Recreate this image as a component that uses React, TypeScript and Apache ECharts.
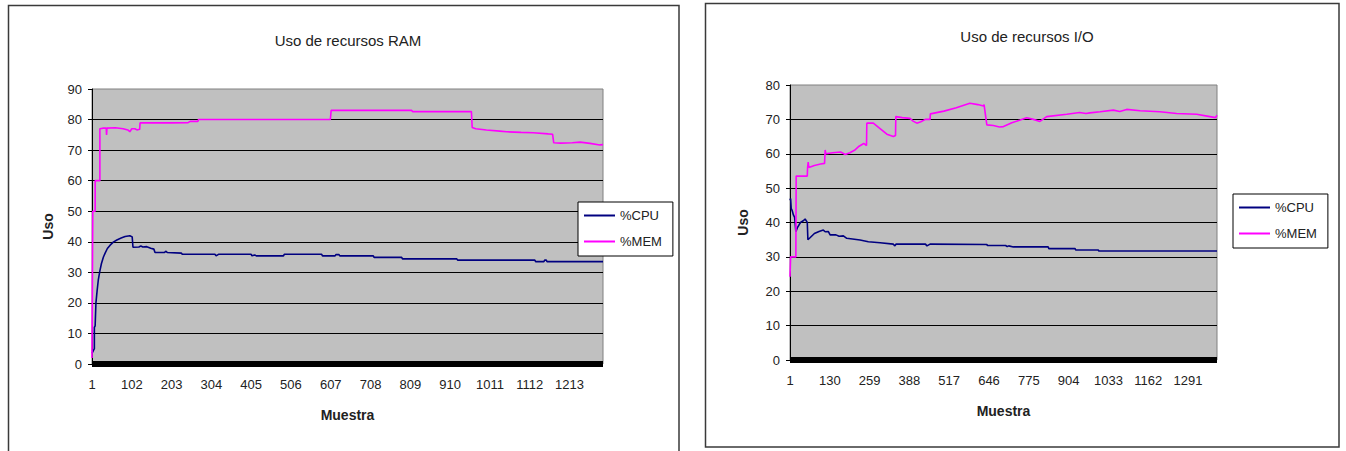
import React, { useEffect, useRef } from "react";
import * as echarts from "echarts";

// ---------- data (sample number, value) ----------
const ramSampleCount = 1298;
const ioSampleCount = 1385;

const ramTickStep = 101;
const ioTickStep = 129;

const ramCpuSample = [1, 5, 7, 7, 9, 11, 14, 17, 21, 25, 30, 34, 40, 47, 55, 64, 75, 85, 97, 103, 105, 120, 125, 130, 140, 150, 158, 161, 185, 188, 192, 228, 230, 313, 316, 322, 405, 407, 414, 418, 487, 489, 584, 586, 618, 620, 628, 630, 715, 717, 787, 789, 927, 929, 1125, 1127, 1148, 1150, 1154, 1156, 1298];
const ramCpuValue = [3.5, 4.5, 5, 12, 12.5, 20, 24, 27.5, 30.5, 32.9, 35, 36.2, 37.8, 38.9, 39.9, 40.6, 41.2, 41.7, 42.0, 41.6, 38.2, 38.3, 38.6, 38.3, 38.4, 37.9, 37.6, 36.5, 36.5, 36.9, 36.5, 36.3, 35.9, 35.9, 35.4, 35.9, 35.9, 35.4, 35.7, 35.4, 35.4, 35.9, 35.9, 35.4, 35.4, 35.8, 35.8, 35.4, 35.4, 34.9, 34.9, 34.4, 34.4, 34.0, 34.0, 33.5, 33.5, 34.0, 34.0, 33.5, 33.5];

const ramMemSample = [1, 3, 9, 9, 21, 21, 30, 37, 38, 39, 60, 80, 92, 97, 102, 110, 115, 122, 123, 200, 245, 250, 270, 271, 606, 608, 812, 815, 964, 966, 975, 1002, 1036, 1053, 1090, 1121, 1159, 1170, 1173, 1190, 1220, 1240, 1265, 1290, 1298];
const ramMemValue = [2, 50, 50, 60, 60, 77, 77.2, 77.2, 75, 77.2, 77.3, 77.0, 76.6, 76.0, 77.0, 77.0, 76.6, 76.8, 78.9, 78.9, 79.0, 79.4, 79.4, 80.0, 80.0, 83.0, 83.0, 82.6, 82.6, 77.4, 77.0, 76.6, 76.2, 76.0, 75.8, 75.7, 75.3, 75.2, 72.4, 72.3, 72.4, 72.6, 72.2, 71.7, 71.8];

const ioCpuSample = [1, 3, 5, 8, 12, 16, 20, 25, 35, 44, 50, 53, 57, 59, 65, 80, 95, 109, 115, 125, 131, 150, 160, 174, 185, 228, 255, 293, 336, 340, 345, 440, 445, 455, 639, 641, 700, 705, 710, 725, 838, 840, 925, 927, 1000, 1002, 1385];
const ioCpuValue = [46.5, 47, 44, 43.5, 42.2, 41.5, 37.3, 38.5, 40.0, 40.5, 41.0, 40.6, 40.0, 35.0, 35.5, 36.8, 37.4, 37.8, 37.3, 37.4, 36.4, 36.4, 36.0, 36.1, 35.4, 34.9, 34.4, 34.1, 33.7, 33.2, 33.7, 33.7, 33.2, 33.7, 33.6, 33.3, 33.3, 33.0, 33.2, 32.9, 32.9, 32.4, 32.4, 32.0, 32.0, 31.7, 31.7];

const ioMemSample = [1, 3, 20, 21, 57, 58, 60, 62, 80, 100, 113, 115, 117, 140, 165, 180, 195, 210, 225, 240, 249, 250, 271, 290, 315, 336, 343, 344, 365, 390, 400, 412, 425, 440, 455, 456, 500, 540, 584, 610, 628, 630, 639, 660, 680, 693, 720, 747, 768, 790, 811, 833, 898, 940, 960, 973, 1006, 1049, 1070, 1092, 1136, 1200, 1254, 1319, 1362, 1380, 1385];
const ioMemValue = [24.2, 30, 30, 53.5, 53.5, 56, 57.6, 56, 56.6, 57, 57.2, 61.1, 60.0, 60.3, 60.5, 59.8, 60.3, 61, 62.2, 63.0, 62.4, 68.9, 68.9, 67.5, 65.7, 65.0, 65.3, 70.8, 70.5, 70.3, 69.5, 68.9, 69.3, 70.0, 70.0, 71.6, 72.4, 73.4, 74.7, 74.3, 73.9, 74.3, 68.4, 68.2, 67.8, 67.9, 69.0, 69.8, 70.5, 70.0, 69.4, 70.8, 71.5, 72.0, 71.7, 71.9, 72.2, 72.7, 72.3, 72.9, 72.5, 72.2, 71.7, 71.5, 70.8, 70.5, 71.2];

const ramYMax = 90;
const ioYMax = 80;

const seriesNames = ["%CPU", "%MEM"];
const titles = ["Uso de recursos RAM", "Uso de recursos I/O"];
const yTitle = "Uso";
const xTitle = "Muestra";

// ---------- helpers ----------
const toPoints = (samples: number[], values: number[]) =>
  samples.map((s, i) => [s - 1, values[i]]);

const FONT = 'Arial, "Liberation Sans", sans-serif';
const CPU_COLOR = "#000080";
const MEM_COLOR = "#ff00ff";

function xAxisFor(gridIndex: number, count: number, step: number) {
  return {
    type: "value",
    gridIndex,
    min: 0,
    max: count - 1,
    interval: step,
    name: xTitle,
    nameLocation: "middle",
    nameGap: 44,
    nameTextStyle: { fontFamily: FONT, fontSize: 14, fontWeight: "bold", color: "#222" },
    axisLine: { show: true, lineStyle: { color: "#000", width: 6, cap: "butt" } },
    axisTick: { show: false },
    splitLine: { show: false },
    axisLabel: {
      showMaxLabel: false,
      margin: 14,
      fontFamily: FONT,
      fontSize: 13,
      color: "#222",
      formatter: (v: number) => String(v + 1),
    },
  };
}

function yAxisFor(gridIndex: number, max: number, gap: number) {
  return {
    type: "value",
    gridIndex,
    min: 0,
    max,
    interval: 10,
    name: yTitle,
    nameLocation: "middle",
    nameGap: gap,
    nameRotate: 90,
    nameTextStyle: { fontFamily: FONT, fontSize: 14, fontWeight: "bold", color: "#222" },
    axisLine: { show: true, lineStyle: { color: "#000", width: 1 } },
    axisTick: { show: true, length: 4, lineStyle: { color: "#000" } },
    splitLine: { show: true, showMaxLine: false, lineStyle: { color: "#000", width: 1 } },
    axisLabel: { margin: 10, fontFamily: FONT, fontSize: 13, color: "#222" },
  };
}

function legendAt(left: number, top: number) {
  return {
    left,
    top,
    orient: "vertical",
    icon: "rect",
    itemWidth: 31,
    itemHeight: 2,
    itemGap: 13,
    padding: [7, 11, 8, 6],
    borderColor: "#000",
    borderWidth: 1,
    backgroundColor: "#fff",
    data: seriesNames,
    textStyle: { fontFamily: FONT, fontSize: 13, color: "#222" },
  };
}

function lineSeries(name: string, color: string, idx: number, data: number[][]) {
  return {
    name,
    type: "line",
    xAxisIndex: idx,
    yAxisIndex: idx,
    data,
    showSymbol: false,
    symbol: "none",
    lineStyle: { color, width: 1.6 },
    itemStyle: { color },
    z: 3,
  };
}

export default function App() {
  const ref = useRef<HTMLDivElement>(null);

  useEffect(() => {
    if (!ref.current) return;
    const chart = echarts.init(ref.current, null, { renderer: "svg" });
    const gridStyle = {
      show: true,
      backgroundColor: "#c0c0c0",
      borderColor: "#808080",
      borderWidth: 1,
    };
    chart.setOption({
      animation: false,
      backgroundColor: "#fff",
      title: [
        {
          text: titles[0],
          left: 343,
          top: 28,
          textAlign: "center",
          textStyle: { fontFamily: FONT, fontSize: 15, fontWeight: "normal", color: "#222" },
        },
        {
          text: titles[1],
          left: 1022,
          top: 24,
          textAlign: "center",
          textStyle: { fontFamily: FONT, fontSize: 15, fontWeight: "normal", color: "#222" },
        },
      ],
      legend: [legendAt(578, 202), legendAt(1233, 194)],
      grid: [
        { left: 92, top: 89, width: 511, height: 275, ...gridStyle },
        { left: 790, top: 85, width: 427, height: 275, ...gridStyle },
      ],
      xAxis: [
        xAxisFor(0, ramSampleCount, ramTickStep),
        xAxisFor(1, ioSampleCount, ioTickStep),
      ],
      yAxis: [yAxisFor(0, ramYMax, 37), yAxisFor(1, ioYMax, 40)],
      series: [
        lineSeries(seriesNames[0], CPU_COLOR, 0, toPoints(ramCpuSample, ramCpuValue)),
        lineSeries(seriesNames[1], MEM_COLOR, 0, toPoints(ramMemSample, ramMemValue)),
        lineSeries(seriesNames[0], CPU_COLOR, 1, toPoints(ioCpuSample, ioCpuValue)),
        lineSeries(seriesNames[1], MEM_COLOR, 1, toPoints(ioMemSample, ioMemValue)),
      ],
      graphic: [
        {
          type: "rect",
          silent: true,
          shape: { x: 8.5, y: 5.5, width: 670.5, height: 460 },
          style: { fill: "none", stroke: "#3a3a3a", lineWidth: 1.5 },
        },
        {
          type: "rect",
          silent: true,
          shape: { x: 705.5, y: 3.5, width: 633.5, height: 443.5 },
          style: { fill: "none", stroke: "#3a3a3a", lineWidth: 1.5 },
        },
      ],
    });
    return () => chart.dispose();
  }, []);

  return (
    <div
      ref={ref}
      style={{ position: "absolute", left: 0, top: 0, width: 1346, height: 451, background: "#fff" }}
    />
  );
}
